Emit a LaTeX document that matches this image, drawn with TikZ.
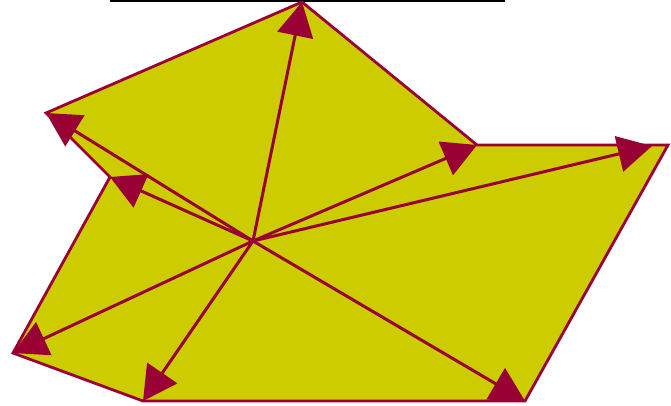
\documentclass[tikz,border=0pt]{standalone}
\usetikzlibrary{arrows.meta}
\definecolor{fillyel}{RGB}{204,204,0}
\definecolor{crim}{RGB}{153,0,51}
\tikzset{
  poly/.style={draw=crim, fill=fillyel, line width=2.8pt, line join=miter},
  vec/.style={draw=crim, line width=3pt, -{Triangle[length=34pt,width=36pt]}},
  topbar/.style={draw=black, line width=3.5pt}
}
\begin{document}
\begin{tikzpicture}[x=1pt,y=-1pt]
\useasboundingbox (0,0) rectangle (671,405);
\coordinate (c) at (253,241);
\coordinate (v1) at (302,2);
\coordinate (v2) at (477,145);
\coordinate (v3) at (668,145);
\coordinate (v3a) at (652,146);
\coordinate (v4) at (525,401);
\coordinate (v5) at (143,401);
\coordinate (v6) at (13,353);
\coordinate (v7) at (110,177);
\coordinate (v8) at (46,113);
\coordinate (b1) at (110,0.5);
\coordinate (b2) at (505,0.5);
\draw[topbar] (b1) -- (b2);
\path[poly] (v1) -- (v2) -- (v3) -- (v4) -- (v5) -- (v6) -- (v7) -- (v8) -- cycle;
\foreach \v in {v1,v2,v3a,v4,v5,v6,v7,v8}
  \draw[vec] (c) -- (\v);
\end{tikzpicture}
\end{document}
